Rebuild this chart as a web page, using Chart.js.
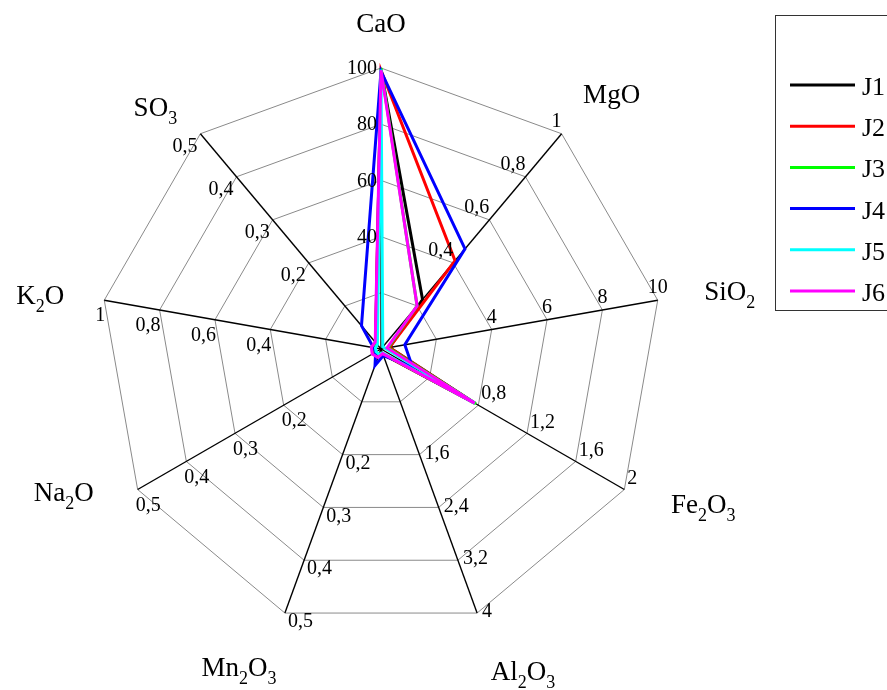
<!DOCTYPE html>
<html>
<head>
<meta charset="utf-8">
<script src="https://cdn.jsdelivr.net/npm/chart.js@4.4.1/dist/chart.umd.min.js"></script>
<style>
  html, body { margin: 0; padding: 0; background: #fff; }
  canvas { display: block; }
</style>
</head>
<body>
<canvas id="chart" width="887" height="690"></canvas>
<script>
// Oxide axes (an underscore marks the following character as a subscript)
const axes = ['CaO', 'MgO', 'SiO_2', 'Fe_2O_3', 'Al_2O_3', 'Mn_2O_3', 'Na_2O', 'K_2O', 'SO_3'];
// Full-scale value of every axis
const axisMax = [100, 1, 10, 2, 4, 0.5, 0.5, 1, 0.5];
// Tick labels written along each axis
const tickLabels = [
  ['40', '60', '80', '100'],
  ['0,4', '0,6', '0,8', '1'],
  ['4', '6', '8', '10'],
  ['0,8', '1,2', '1,6', '2'],
  ['1,6', '2,4', '3,2', '4'],
  ['0,2', '0,3', '0,4', '0,5'],
  ['0,2', '0,3', '0,4', '0,5'],
  ['0,4', '0,6', '0,8', '1'],
  ['0,2', '0,3', '0,4', '0,5']
];

// Composition of each sample, in axis order
const seriesNames = ['J1', 'J2', 'J3', 'J4', 'J5', 'J6'];
const J1 = [99.2, 0.23, 0.30, 0.77, 0.08, 0.012, 0.015, 0.030, 0.015];
const J2 = [99.2, 0.41, 0.30, 0.76, 0.08, 0.012, 0.015, 0.030, 0.015];
const J3 = [100,  0.20, 0.25, 0.78, 0.07, 0.010, 0.012, 0.025, 0.012];
const J4 = [98.8, 0.465, 0.86, 0.26, 0.10, 0.031, 0.011, 0.027, 0.054];
const J5 = [99.5, 0.01, 0.15, 0.77, 0.06, 0.010, 0.010, 0.020, 0.010];
const J6 = [99.2, 0.20, 0.22, 0.77, 0.07, 0.016, 0.018, 0.035, 0.016];
const seriesColors = ['#000000', '#ff0000', '#00ff00', '#0000ff', '#00ffff', '#ff00ff'];

const seriesValues = [J1, J2, J3, J4, J5, J6];

// Placement of tick labels relative to their tick point
const tickStyle = [
  { align: 'right',  dx: -4, dy: 1 },
  { align: 'right',  dx: 0,  dy: -12 },
  { align: 'center', dx: 0,  dy: -12 },
  { align: 'left',   dx: 3,  dy: -11 },
  { align: 'left',   dx: 5,  dy: -1 },
  { align: 'left',   dx: 3,  dy: 9 },
  { align: 'left',   dx: -2, dy: 16 },
  { align: 'right',  dx: 1,  dy: 16 },
  { align: 'right',  dx: -3, dy: 13 }
];
// Axis title centre (x) and baseline (y) relative to the axis end
const titleOffset = [
  [0, -36], [50, -31], [72, 0], [79, 23], [46, 67],
  [-46, 63], [-74, 11], [-64, 4], [-45, -18]
];

function parseTitle(s) {
  const parts = [];
  for (let i = 0; i < s.length; i++) {
    if (s[i] === '_') { parts.push({ t: s[i + 1], sub: true }); i++; }
    else if (parts.length && !parts[parts.length - 1].sub) parts[parts.length - 1].t += s[i];
    else parts.push({ t: s[i], sub: false });
  }
  return parts;
}

const FONT = '"Liberation Serif", "Times New Roman", serif';

const annotations = {
  id: 'oxideAnnotations',
  afterDraw(chart) {
    const ctx = chart.ctx;
    const r = chart.scales.r;
    ctx.save();
    ctx.fillStyle = '#000';

    // tick labels on every axis
    ctx.font = '20px ' + FONT;
    ctx.textBaseline = 'middle';
    axes.forEach((_, i) => {
      const st = tickStyle[i];
      ctx.textAlign = st.align;
      tickLabels[i].forEach(lbl => {
        const v = parseFloat(lbl.replace(',', '.'));
        const p = r.getPointPosition(i, r.getDistanceFromCenterForValue(v / axisMax[i]));
        ctx.fillText(lbl, p.x + st.dx, p.y + st.dy);
      });
    });

    // axis titles with subscripts
    ctx.textAlign = 'left';
    ctx.textBaseline = 'alphabetic';
    axes.forEach((name, i) => {
      const parts = parseTitle(name);
      let w = 0;
      parts.forEach(p => {
        ctx.font = (p.sub ? '18px ' : '27px ') + FONT;
        p.w = ctx.measureText(p.t).width;
        w += p.w;
      });
      const end = r.getPointPosition(i, r.drawingArea);
      let x = end.x + titleOffset[i][0] - w / 2;
      const y = end.y + titleOffset[i][1];
      parts.forEach(p => {
        ctx.font = (p.sub ? '18px ' : '27px ') + FONT;
        ctx.fillText(p.t, x, y + (p.sub ? 8 : 0));
        x += p.w;
      });
    });

    // legend box
    ctx.strokeStyle = '#333';
    ctx.lineWidth = 1;
    ctx.strokeRect(775.5, 15.5, 200, 295);
    ctx.font = '26px ' + FONT;
    chart.data.datasets.forEach((ds, k) => {
      const y = 85 + k * 41.2;
      ctx.strokeStyle = ds.borderColor;
      ctx.lineWidth = 3;
      ctx.beginPath();
      ctx.moveTo(790, y);
      ctx.lineTo(855, y);
      ctx.stroke();
      ctx.fillStyle = '#000';
      ctx.fillText(ds.label, 862, y + 10);
    });
    ctx.restore();
  }
};

new Chart(document.getElementById('chart'), {
  type: 'radar',
  data: {
    labels: axes,
    datasets: seriesValues.map((vals, k) => ({
      label: seriesNames[k],
      data: vals.map((v, i) => v / axisMax[i]),
      borderColor: seriesColors[k],
      borderWidth: 3,
      fill: false,
      pointRadius: 0,
      tension: 0,
      // later samples are painted over earlier ones
      order: seriesValues.length - k
    }))
  },
  options: {
    responsive: false,
    animation: false,
    devicePixelRatio: 1,
    layout: { padding: { left: 100, top: 68, right: 225, bottom: 60 } },
    plugins: { legend: { display: false }, tooltip: { enabled: false } },
    scales: {
      r: {
        min: 0,
        max: 1,
        startAngle: 0,
        ticks: { display: false, stepSize: 0.2 },
        pointLabels: { display: false },
        grid: { color: '#8a8a8a', lineWidth: 1, circular: false },
        angleLines: { color: '#000', lineWidth: 1.4 }
      }
    }
  },
  plugins: [annotations]
});
</script>
</body>
</html>
